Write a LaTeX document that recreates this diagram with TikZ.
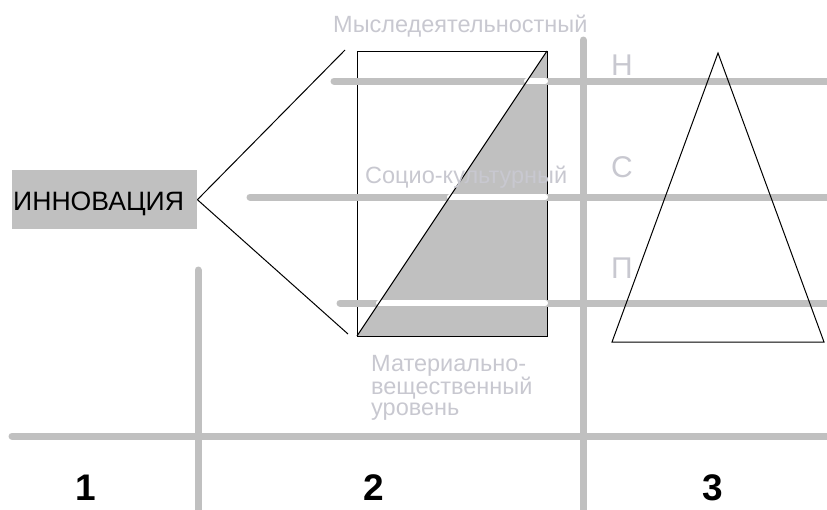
\documentclass[tikz,border=0pt]{standalone}
\usepackage{fontspec}
\setmainfont{Liberation Sans}
\definecolor{grline}{RGB}{192,192,192}
\definecolor{grtext}{RGB}{200,200,208}
\tikzset{
  gline/.style={draw=grline, line width=7pt, line cap=round},
  wline/.style={draw=white, line width=6pt, line cap=round},
  thin/.style={draw=black, line width=1pt},
  lbl/.style={text=grtext, font=\fontsize{23.5}{21}\selectfont, inner sep=0pt, anchor=base west},
  lvl/.style={text=grtext, font=\fontsize{30}{30}\selectfont, inner sep=0pt, anchor=base west},
  num/.style={text=black, font=\bfseries\fontsize{37}{37}\selectfont, inner sep=0pt, anchor=base}
}
\begin{document}
\begin{tikzpicture}[x=1pt,y=-1pt]
\useasboundingbox (0,0) rectangle (827,509);
% coordinates
\coordinate (rtl) at (357,51);
\coordinate (rtr) at (547,51);
\coordinate (rbl) at (357,336);
\coordinate (rbr) at (547,336);
\coordinate (ltop) at (345,50);
\coordinate (lbot) at (348,334);
% gray triangle inside rectangle
\fill[grline] (rbl) -- (rtr) -- (rbr) -- cycle;
\draw[thin] (rtl) rectangle (rbr);
% horizontal gray lines
\draw[gline] (334,81) -- (830,81);
\draw[gline] (250,197) -- (830,197);
\draw[gline] (340,303) -- (830,303);
\draw[gline] (12,436) -- (830,436);
% vertical gray lines
\draw[gline] (198,270) -- (198,515);
\draw[gline] (583,40) -- (583,515);
% white segments over gray triangle
\draw[wline] (527,81) -- (545,81);
\draw[wline] (450,197) -- (545,197);
\draw[wline] (379,303) -- (545,303);
% diagonal
\draw[thin] (rbl) -- (rtr);
% innovation box
\node[fill=grline, minimum width=185pt, minimum height=59pt, inner sep=0pt,
      anchor=north west] (inn) at (12,170) {};
\node[font=\fontsize{26.6}{26.6}\selectfont, inner sep=0pt, anchor=base west] (innt) at (13,210) {ИННОВАЦИЯ};
\draw[thin] (inn.east) -- (ltop);
\draw[thin] (inn.east) -- (lbot);
% triangle
\coordinate (ta) at (718,53);
\coordinate (tl) at (612,342);
\coordinate (tr) at (824,342);
\draw[thin, line join=miter] (tl) -- (ta) -- (tr) -- cycle;
% labels
\node[lbl] (l1) at (333,32) {Мыследеятельностный};
\node[lbl] (l2) at (365,183) {Социо-культурный};
\node[lbl, anchor=north west, align=left] (l3) at (371,355.2) {Материально-\\вещественный\\уровень};
\node[lvl] (n1) at (611,75) {Н};
\node[lvl] (n2) at (611,177) {С};
\node[lvl] (n3) at (611,278) {П};
\node[num] (d1) at (86,500) {1};
\node[num] (d2) at (374,500) {2};
\node[num] (d3) at (713,500) {3};
\end{tikzpicture}
\end{document}
